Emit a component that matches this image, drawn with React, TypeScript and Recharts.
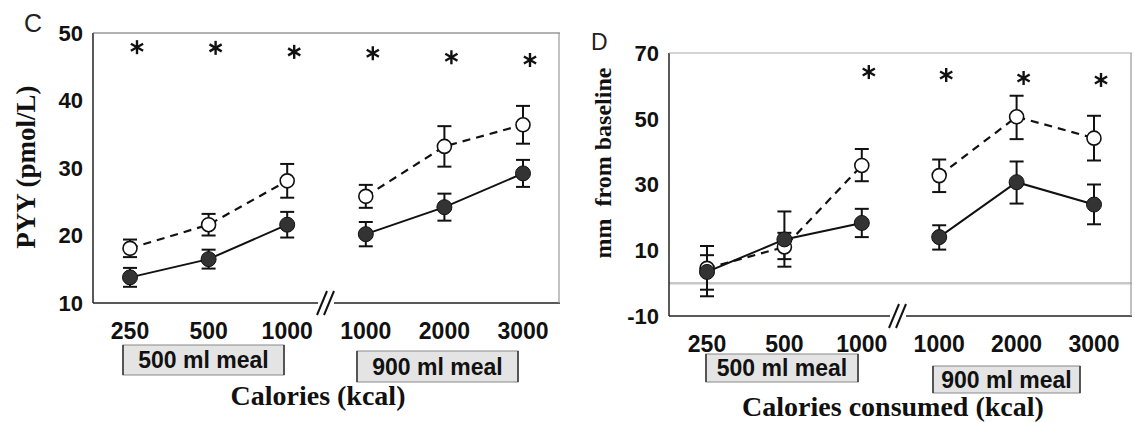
import React from 'react';
import {
  ComposedChart,
  Line,
  Scatter,
  XAxis,
  YAxis,
  ErrorBar,
  ReferenceLine,
} from 'recharts';

// shared x categories (two meal volumes, axis is broken between them)
const calories = ['250', '500', '1000', '1000', '2000', '3000'];
const mealGroup = [0, 0, 0, 1, 1, 1];

// panel C: PYY (pmol/L)
const pyyFilled = [13.8, 16.5, 21.6, 20.2, 24.2, 29.2];
const pyyFilledErr = [1.4, 1.4, 1.9, 1.8, 2.0, 2.0];
const pyyOpen = [18.1, 21.6, 28.1, 25.8, 33.2, 36.4];
const pyyOpenErr = [1.3, 1.6, 2.5, 1.7, 3.0, 2.8];
const pyyStars = [47.9, 47.8, 47.2, 47.0, 46.4, 46.0];
const pyyTicks = [10, 20, 30, 40, 50];

// panel D: mm from baseline, errors as [minus, plus]
const hungerFilled = [3.4, 13.3, 18.3, 14.0, 30.7, 23.9];
const hungerFilledErr = [[7.4, 7.9], [6, 2], [4.3, 4.3], [3.8, 3.6], [6.5, 6.3], [6, 6.1]];
const hungerOpen = [4.5, 11.0, 35.8, 32.7, 50.6, 44.1];
const hungerOpenErr = [[6.5, 4], [6, 10.8], [4.8, 5], [5, 4.9], [6.8, 6.4], [6.8, 6.8]];
const hungerStars = [null, null, 64.2, 63.3, 62.4, 61.8];
const hungerTicks = [-10, 10, 30, 50, 70];

const SANS = 'Liberation Sans, Arial, sans-serif';
const SERIF = 'Liberation Serif, Times New Roman, serif';

const buildRows = (filled, filledErr, open, openErr, stars) =>
  calories.map((c, i) => {
    const g = mealGroup[i];
    return {
      idx: i,
      [`filled${g}`]: filled[i],
      [`filledErr${g}`]: filledErr[i],
      [`open${g}`]: open[i],
      [`openErr${g}`]: openErr[i],
      star: stars[i],
    };
  });

const Star = (props: any) => {
  const { cx, cy } = props;
  if (cx == null || cy == null) return null;
  const x = cx + 7;
  const r = 7;
  return (
    <g stroke='#111' strokeWidth={2.4}>
      <line x1={x} y1={cy - r} x2={x} y2={cy + r} />
      <line x1={x - r * 0.87} y1={cy - r * 0.5} x2={x + r * 0.87} y2={cy + r * 0.5} />
      <line x1={x - r * 0.87} y1={cy + r * 0.5} x2={x + r * 0.87} y2={cy - r * 0.5} />
    </g>
  );
};

const FilledDot = (props: any) => {
  const { cx, cy, value } = props;
  if (cx == null || cy == null || value == null) return null;
  return <circle cx={cx} cy={cy} r={7.5} fill='#333' stroke='#111' strokeWidth={1} />;
};

const OpenDot = (props: any) => {
  const { cx, cy, value } = props;
  if (cx == null || cy == null || value == null) return null;
  return <circle cx={cx} cy={cy} r={7} fill='#fff' stroke='#111' strokeWidth={1.6} />;
};

const Panel = ({ rows, domain, ticks, width, height, margin, yWidth, pad, zeroLine }) => (
  <ComposedChart width={width} height={height} data={rows} margin={margin}>
    <XAxis
      dataKey='idx'
      type='category'
      tickFormatter={(i) => calories[i]}
      padding={{ left: pad, right: pad }}
      axisLine={{ stroke: '#222', strokeWidth: 1.5 }}
      tickLine={false}
      tickMargin={14}
      height={30}
      tick={{ fontFamily: SANS, fontSize: 23, fontWeight: 'bold', fill: '#111' }}
    />
    <YAxis
      type='number'
      domain={domain}
      ticks={ticks}
      width={yWidth}
      axisLine={{ stroke: '#222', strokeWidth: 1.5 }}
      tickLine={false}
      tickMargin={4}
      tick={{ fontFamily: SANS, fontSize: 22, fontWeight: 'bold', fill: '#111' }}
    />
    {zeroLine && <ReferenceLine y={0} stroke='#c8c8c8' strokeWidth={2.5} />}
    {[0, 1].map((g) => (
      <Line
        key={`o${g}`}
        dataKey={`open${g}`}
        stroke='#111'
        strokeWidth={2.2}
        strokeDasharray='8 6'
        dot={<OpenDot />}
        activeDot={false}
        isAnimationActive={false}
        connectNulls={false}
      >
        <ErrorBar dataKey={`openErr${g}`} width={7} stroke='#111' strokeWidth={2} direction='y' />
      </Line>
    ))}
    {[0, 1].map((g) => (
      <Line
        key={`f${g}`}
        dataKey={`filled${g}`}
        stroke='#111'
        strokeWidth={2}
        dot={<FilledDot />}
        activeDot={false}
        isAnimationActive={false}
        connectNulls={false}
      >
        <ErrorBar dataKey={`filledErr${g}`} width={7} stroke='#111' strokeWidth={2} direction='y' />
      </Line>
    ))}
    <Scatter dataKey='star' shape={<Star />} isAnimationActive={false} />
  </ComposedChart>
);

const MealBox = ({ x, y, w, h, text }) => (
  <g>
    <rect x={x} y={y} width={w} height={h} fill='#e4e4e4' stroke='#888' strokeWidth={1} />
    <line x1={x} y1={y} x2={x} y2={y + h} stroke='#333' strokeWidth={1.5} />
    <line x1={x + w} y1={y} x2={x + w} y2={y + h} stroke='#333' strokeWidth={1.5} />
    <text
      x={x + w / 2}
      y={y + h / 2 + 8}
      textAnchor='middle'
      fontFamily={SANS}
      fontWeight='bold'
      fontSize={23}
      fill='#111'
    >
      {text}
    </text>
  </g>
);

const BreakMark = ({ x, y }) => (
  <g stroke='#111' strokeWidth={2}>
    <rect x={x - 8} y={y - 3} width={16} height={6} fill='#fff' stroke='none' />
    <line x1={x - 9} y1={y + 12} x2={x + 1} y2={y - 12} />
    <line x1={x - 2} y1={y + 12} x2={x + 8} y2={y - 12} />
  </g>
);

export default function App() {
  const rowsC = buildRows(pyyFilled, pyyFilledErr, pyyOpen, pyyOpenErr, pyyStars);
  const rowsD = buildRows(hungerFilled, hungerFilledErr, hungerOpen, hungerOpenErr, hungerStars);

  return (
    <div style={{ position: 'absolute', left: 0, top: 0, width: 1135, height: 423, background: '#fff' }}>
      <div style={{ position: 'absolute', left: 0, top: 0 }}>
        <Panel
          rows={rowsC}
          domain={[10, 50]}
          ticks={pyyTicks}
          width={560}
          height={423}
          margin={{ top: 33, right: 0, bottom: 90, left: 0 }}
          yWidth={93}
          pad={37}
          zeroLine={false}
        />
      </div>
      <div style={{ position: 'absolute', left: 560, top: 0 }}>
        <Panel
          rows={rowsD}
          domain={[-10, 70]}
          ticks={hungerTicks}
          width={575}
          height={423}
          margin={{ top: 53, right: 3, bottom: 77, left: 0 }}
          yWidth={109}
          pad={38}
          zeroLine
        />
      </div>
      <svg
        width={1135}
        height={423}
        style={{ position: 'absolute', left: 0, top: 0, pointerEvents: 'none' }}
      >
        {/* frame tops and rights */}
        <line x1={93} y1={33} x2={560} y2={33} stroke='#666' strokeWidth={1.2} />
        <line x1={559} y1={33} x2={559} y2={303} stroke='#999' strokeWidth={1.2} />
        <line x1={669} y1={53} x2={1132} y2={53} stroke='#aaa' strokeWidth={1.2} />
        <line x1={1131} y1={53} x2={1131} y2={316} stroke='#999' strokeWidth={1.2} />

        <BreakMark x={326} y={303} />
        <BreakMark x={898} y={316} />

        <text x={24} y={32} fontFamily={SANS} fontSize={25} fill='#222'>C</text>
        <text x={591} y={50} fontFamily={SANS} fontSize={23} fill='#222'>D</text>

        <text
          transform='translate(35,167) rotate(-90)'
          textAnchor='middle'
          fontFamily={SERIF}
          fontWeight='bold'
          fontSize={27}
          fill='#111'
        >
          PYY (pmol/L)
        </text>
        <text
          transform='translate(611,163) rotate(-90)'
          textAnchor='middle'
          fontFamily={SERIF}
          fontWeight='bold'
          fontSize={24}
          fill='#111'
          style={{ whiteSpace: 'pre' }}
        >
          {'mm  from baseline'}
        </text>

        <MealBox x={123} y={345} w={161} h={30} text='500 ml meal' />
        <MealBox x={357} y={351} w={161} h={31} text='900 ml meal' />
        <MealBox x={706} y={354} w={152} h={28} text='500 ml meal' />
        <MealBox x={933} y={366} w={147} h={27} text='900 ml meal' />

        <text x={318} y={405} textAnchor='middle' fontFamily={SERIF} fontWeight='bold' fontSize={28} fill='#111'>
          Calories (kcal)
        </text>
        <text x={893} y={416} textAnchor='middle' fontFamily={SERIF} fontWeight='bold' fontSize={28} fill='#111'>
          Calories consumed (kcal)
        </text>
      </svg>
    </div>
  );
}
